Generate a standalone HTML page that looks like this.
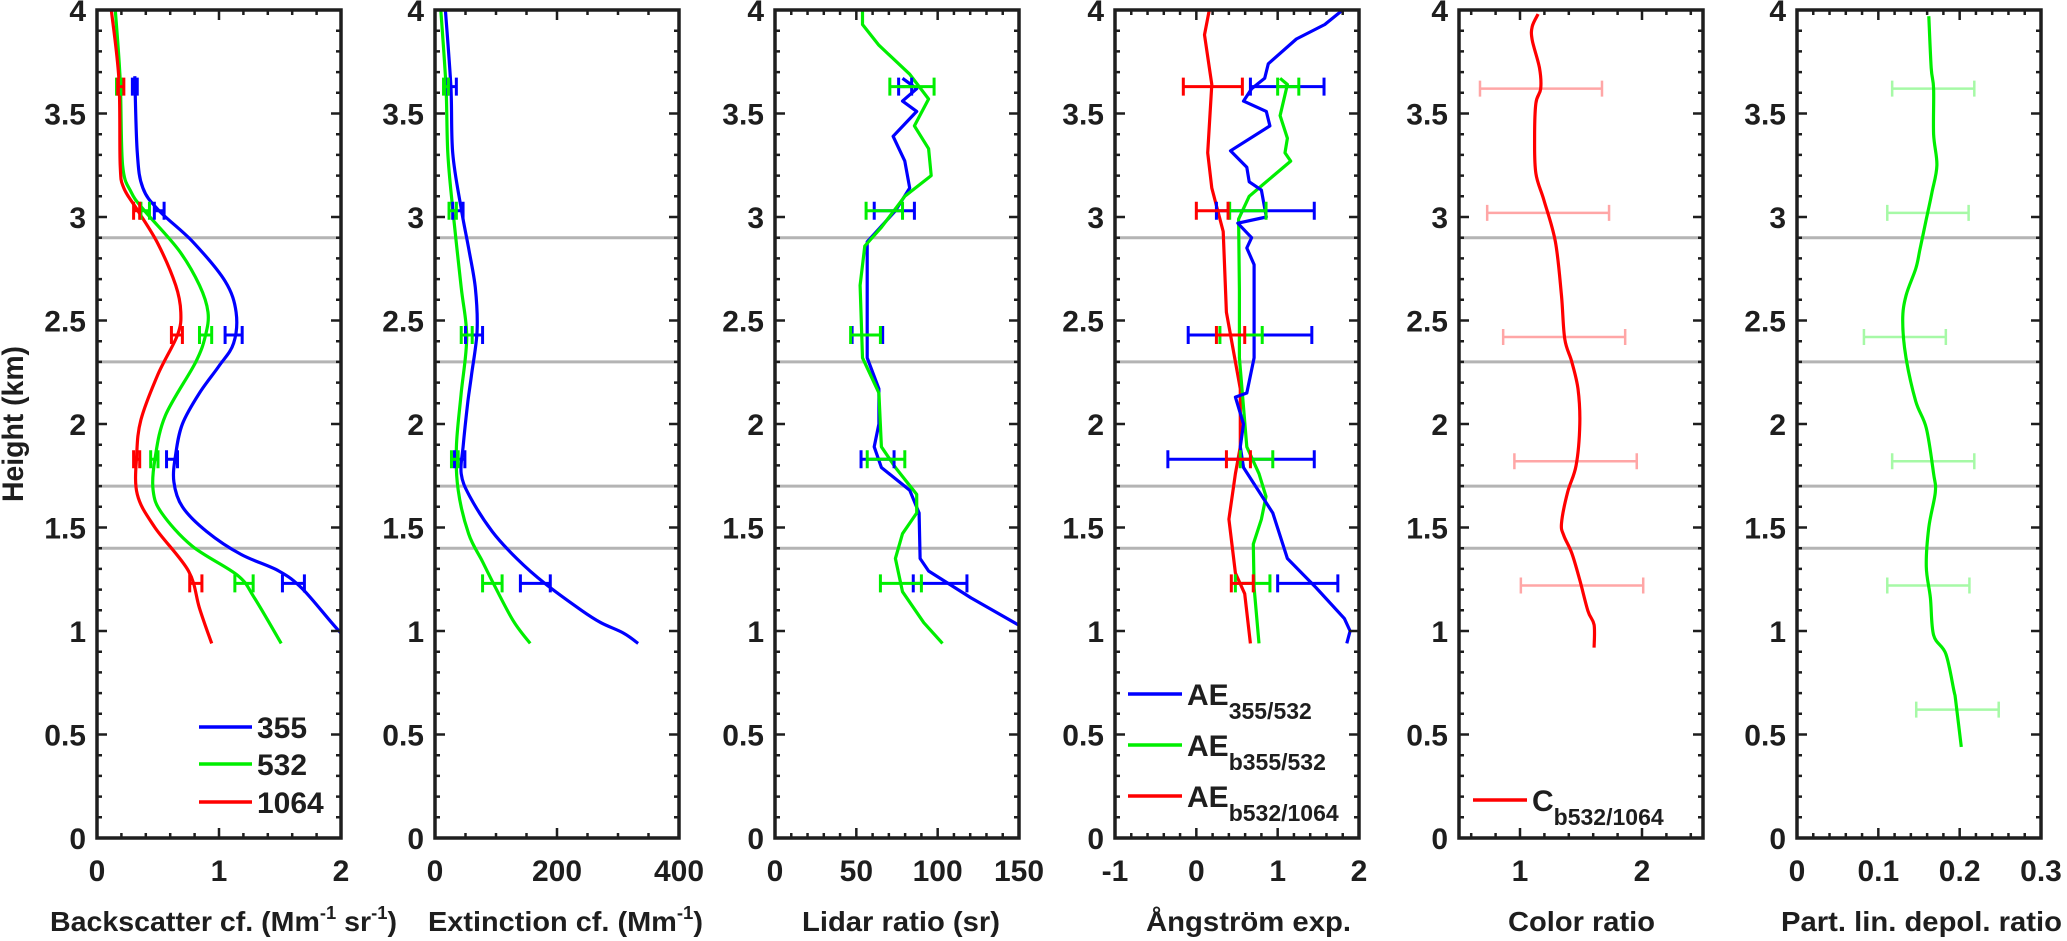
<!DOCTYPE html>
<html><head><meta charset="utf-8"><style>
html,body{margin:0;padding:0;background:#fff;}
svg{display:block;font-family:"Liberation Sans",Arial,sans-serif;font-weight:bold;}
</style></head><body>
<svg id="fig" width="2067" height="941" viewBox="0 0 2067 941" xmlns="http://www.w3.org/2000/svg"></svg>
<script>
// ---------- data ----------
const yTickValues=[0,0.5,1,1.5,2,2.5,3,3.5,4];
const yTickLabels=["0","0.5","1","1.5","2","2.5","3","3.5","4"];
const layerHeights=[2.9,2.3,1.7,1.4];
const errHeights=[3.63,3.03,2.43,1.83,1.23];
const errHeights56=[3.62,3.02,2.42,1.82,1.22];
const errHeightsDp=[3.62,3.02,2.42,1.82,1.22,0.62];

// panel 1 backscatter
const bscH355=[3.68,3.31,3.14,3.03,2.88,2.69,2.54,2.39,2.28,2.15,2.0,1.85,1.72,1.6,1.48,1.37,1.29,1.2,0.99,0.93];
const bsc355=[0.31,0.33,0.376,0.51,0.785,1.05,1.14,1.12,1.0,0.84,0.70,0.644,0.63,0.70,0.90,1.18,1.49,1.69,2.0,2.15];
const bscH532=[4.0,3.66,3.25,3.12,3.03,2.84,2.67,2.54,2.43,2.30,2.04,1.83,1.68,1.57,1.41,1.27,1.16,0.94];
const bsc532=[0.15,0.19,0.21,0.28,0.39,0.67,0.84,0.91,0.89,0.81,0.56,0.475,0.46,0.53,0.78,1.15,1.29,1.51];
const bscH1064=[4.0,3.66,3.25,3.14,3.03,2.87,2.67,2.54,2.43,2.24,2.02,1.85,1.66,1.50,1.29,1.11,0.94];
const bsc1064=[0.117,0.18,0.19,0.22,0.335,0.50,0.645,0.687,0.66,0.50,0.36,0.325,0.33,0.475,0.75,0.84,0.94];
const bscErr355Lo=[0.29,0.47,1.05,0.57,1.52], bscErr355Hi=[0.33,0.55,1.19,0.66,1.70];
const bscErr532Lo=[0.16,0.36,0.84,0.44,1.13], bscErr532Hi=[0.20,0.43,0.94,0.50,1.28];
const bscErr1064Lo=[0.17,0.30,0.61,0.30,0.76], bscErr1064Hi=[0.22,0.35,0.70,0.35,0.86];

// panel 2 extinction
const extH355=[4.0,3.63,3.31,3.04,2.85,2.66,2.45,2.24,2.11,1.89,1.76,1.65,1.48,1.35,1.23,1.1,1.04,0.99,0.94];
const ext355=[17,26,29,43,55,66,69,60,54,46,43,57,94,134,180,240,272,309,333];
const extH532=[4.0,3.63,3.31,3.04,2.66,2.42,2.15,1.89,1.68,1.47,1.34,1.24,1.05,0.94];
const ext532=[9.5,18,21,29,43,52,43,35,38,55,77,94,128,156];
const extErr355Lo=[21,29,50,32,140], extErr355Hi=[35,46,78,49,189];
const extErr532Lo=[14,23,43,27,78], extErr532Hi=[22,35,61,38,110];

// panel 3 lidar ratio
const lrH355=[3.67,3.62,3.56,3.51,3.39,3.27,3.14,3.03,2.88,2.32,2.17,2.0,1.89,1.79,1.68,1.57,1.35,1.29,1.16,1.03,0.98];
const lr355=[78.4,87.1,78.4,87.1,72.6,79.8,82.8,74,56.7,56.7,63.9,63.9,61,65.4,82.8,88.6,89.2,94.4,120.5,149.5,160];
const lrH532=[4.0,3.93,3.83,3.69,3.57,3.44,3.33,3.20,3.10,2.95,2.86,2.67,2.32,2.15,1.89,1.79,1.66,1.57,1.47,1.35,1.19,1.04,0.94];
const lr532=[53.8,53.8,63.9,82.8,94.4,85.7,94.4,96,79.8,65.4,55.2,52.3,53.8,63.9,65.4,74,87.1,87.1,78.4,74,78.4,91.5,103];
const lrErr355Lo=[76,61,47.4,52.9,85], lrErr355Hi=[84,85.7,66.2,73.2,118];
const lrErr532Lo=[70.6,56,46.5,56.7,64.8], lrErr532Hi=[97.8,78.4,64.8,79.8,90];

// panel 4 Angstrom exponent
const aeH355=[4.0,3.93,3.86,3.74,3.67,3.62,3.56,3.51,3.44,3.32,3.24,3.17,3.13,3.0,2.97,2.90,2.85,2.77,2.32,2.15,2.13,2.0,1.89,1.79,1.57,1.35,1.21,1.06,1.0,0.94];
const ae355=[1.80,1.58,1.23,0.885,0.84,0.68,0.58,0.86,0.905,0.42,0.62,0.65,0.80,0.86,0.51,0.68,0.62,0.71,0.71,0.62,0.48,0.58,0.54,0.58,0.94,1.12,1.47,1.82,1.89,1.85];
const aeH532=[3.67,3.64,3.49,3.38,3.31,3.27,3.16,3.10,2.99,2.65,2.32,1.89,1.76,1.65,1.54,1.42,1.21,0.94];
const ae532=[1.03,1.12,1.03,1.12,1.09,1.16,0.83,0.65,0.52,0.53,0.53,0.62,0.77,0.857,0.80,0.70,0.71,0.77];
const aeH1064=[4.0,3.88,3.64,3.31,3.14,2.93,2.54,2.17,1.89,1.76,1.54,1.28,1.18,0.94];
const ae1064=[0.16,0.10,0.19,0.14,0.19,0.33,0.37,0.54,0.54,0.48,0.40,0.48,0.595,0.665];
const aeErr355Lo=[0.665,0.247,-0.10,-0.35,1.0], aeErr355Hi=[1.57,1.45,1.42,1.45,1.74];
const aeErr532Lo=[1.0,0.41,0.29,0.54,0.48], aeErr532Hi=[1.26,0.857,0.81,0.94,0.905];
const aeErr1064Lo=[-0.16,0.0,0.247,0.37,0.43], aeErr1064Hi=[0.566,0.39,0.595,0.665,0.70];

// panel 5 color ratio
const crH=[3.98,3.92,3.855,3.72,3.62,3.55,3.38,3.21,3.08,2.88,2.62,2.41,2.30,2.17,2.0,1.80,1.67,1.52,1.46,1.376,1.246,1.096,1.03,0.92];
const cr=[1.148,1.10,1.10,1.16,1.17,1.13,1.12,1.13,1.197,1.29,1.34,1.367,1.425,1.475,1.49,1.46,1.39,1.34,1.36,1.425,1.49,1.557,1.607,1.607];
const crErrLo=[0.672,0.731,0.862,0.954,1.007], crErrHi=[1.672,1.73,1.862,1.957,2.01];

// panel 6 depolarization
const dpH=[3.97,3.72,3.62,3.40,3.25,3.12,2.99,2.84,2.75,2.62,2.50,2.32,2.11,1.98,1.76,1.67,1.50,1.31,1.16,0.98,0.89,0.71,0.667,0.44];
const dp=[0.162,0.165,0.168,0.168,0.172,0.166,0.159,0.151,0.146,0.134,0.130,0.134,0.146,0.159,0.168,0.170,0.162,0.159,0.164,0.168,0.183,0.193,0.195,0.202];
const dpErrLo=[0.117,0.111,0.0823,0.117,0.111,0.1466], dpErrHi=[0.218,0.211,0.183,0.218,0.212,0.248];

// ---------- layout ----------
const NS="http://www.w3.org/2000/svg";
const svg=document.getElementById('fig');
const PW=244, TOP=10, BOT=838;
const yS=h=>BOT-h*(BOT-TOP)/4;
function mk(tag,attrs,parent){const e=document.createElementNS(NS,tag);for(const k in attrs)e.setAttribute(k,attrs[k]);(parent||svg).appendChild(e);return e;}
const BLUE="#0000ff",GREEN="#00ee00",RED="#ff0000",AX="#1e1e1e";

const panels=[
 {name:"backscatter",left:97,xmin:0,xmax:2,majors:[0,1,2],labels:["0","1","2"],minor:0.2,smooth:true},
 {name:"extinction",left:435,xmin:0,xmax:400,majors:[0,200,400],labels:["0","200","400"],minor:50,smooth:true},
 {name:"lidar-ratio",left:775,xmin:0,xmax:150,majors:[0,50,100,150],labels:["0","50","100","150"],minor:10,smooth:false},
 {name:"angstrom",left:1115,xmin:-1,xmax:2,majors:[-1,0,1,2],labels:["-1","0","1","2"],minor:0.2,smooth:false},
 {name:"color-ratio",left:1459,xmin:0.5,xmax:2.5,majors:[1,2],labels:["1","2"],minor:0.2,smooth:true},
 {name:"depol-ratio",left:1797,xmin:0,xmax:0.3,majors:[0,0.1,0.2,0.3],labels:["0","0.1","0.2","0.3"],minor:0.02,smooth:true}
];
panels.forEach(p=>{p.x=v=>p.left+(v-p.xmin)/(p.xmax-p.xmin)*PW;});

function pathD(xs,ys,smooth){
 const pts=xs.map((x,i)=>[x,ys[i]]);
 let d="M"+pts[0][0].toFixed(1)+","+pts[0][1].toFixed(1);
 if(!smooth){for(let i=1;i<pts.length;i++)d+=" L"+pts[i][0].toFixed(1)+","+pts[i][1].toFixed(1);return d;}
 for(let i=0;i<pts.length-1;i++){
  const p0=pts[Math.max(i-1,0)],p1=pts[i],p2=pts[i+1],p3=pts[Math.min(i+2,pts.length-1)];
  const t=0.5/3;
  const c1=[p1[0]+(p2[0]-p0[0])*t,p1[1]+(p2[1]-p0[1])*t];
  const c2=[p2[0]-(p3[0]-p1[0])*t,p2[1]-(p3[1]-p1[1])*t];
  d+=" C"+c1.map(v=>v.toFixed(1))+" "+c2.map(v=>v.toFixed(1))+" "+p2.map(v=>v.toFixed(1));
 }
 return d;
}

function series(pi,vals,hs,color,name){
 const p=panels[pi];
 const el=mk('path',{d:pathD(vals.map(p.x),hs.map(yS),p.smooth),fill:"none",stroke:color,"stroke-width":3.2,"stroke-linejoin":"round","clip-path":"url(#clip"+pi+")"},p.g);
 
 
}
function errbars(pi,hs,lo,hi,color,opacity,sw,name){
 const p=panels[pi];
 const g=mk('g',{stroke:color,"stroke-width":sw,"stroke-opacity":opacity,"clip-path":"url(#clip"+pi+")"},p.g);
 
 
 hs.forEach((h,i)=>{
  const y=yS(h),x1=p.x(lo[i]),x2=p.x(hi[i]),c=opacity<1?8:9;
  const e=mk('path',{d:`M${x1},${y}H${x2}M${x1},${y-c}V${y+c}M${x2},${y-c}V${y+c}`,fill:"none"},g);
  
  
 });
}

const defs=mk('defs',{});
panels.forEach((p,pi)=>{
 const cp=mk('clipPath',{id:"clip"+pi},defs);
 mk('rect',{x:p.left,y:TOP,width:PW,height:BOT-TOP},cp);
 p.g=mk('g',{});
 
 
 // layer lines
 layerHeights.forEach(h=>{
  const l=mk('line',{x1:p.left,x2:p.left+PW,y1:yS(h),y2:yS(h),stroke:"#b4b4b4","stroke-width":3},p.g);
  
  
 });
});

// series
series(0,bsc355,bscH355,BLUE,"backscatter-355-line");
series(0,bsc532,bscH532,GREEN,"backscatter-532-line");
series(0,bsc1064,bscH1064,RED,"backscatter-1064-line");
errbars(0,errHeights,bscErr355Lo,bscErr355Hi,BLUE,1,3,"backscatter-355-errors");
errbars(0,errHeights,bscErr532Lo,bscErr532Hi,GREEN,1,3,"backscatter-532-errors");
errbars(0,errHeights,bscErr1064Lo,bscErr1064Hi,RED,1,3,"backscatter-1064-errors");
series(1,ext355,extH355,BLUE,"extinction-355-line");
series(1,ext532,extH532,GREEN,"extinction-532-line");
errbars(1,errHeights,extErr355Lo,extErr355Hi,BLUE,1,3,"extinction-355-errors");
errbars(1,errHeights,extErr532Lo,extErr532Hi,GREEN,1,3,"extinction-532-errors");
series(2,lr355,lrH355,BLUE,"lidar-ratio-355-line");
series(2,lr532,lrH532,GREEN,"lidar-ratio-532-line");
errbars(2,errHeights,lrErr355Lo,lrErr355Hi,BLUE,1,3,"lidar-ratio-355-errors");
errbars(2,errHeights,lrErr532Lo,lrErr532Hi,GREEN,1,3,"lidar-ratio-532-errors");
series(3,ae1064,aeH1064,RED,"ae-b532-1064-line");
series(3,ae532,aeH532,GREEN,"ae-b355-532-line");
series(3,ae355,aeH355,BLUE,"ae-355-532-line");
errbars(3,errHeights,aeErr355Lo,aeErr355Hi,BLUE,1,3,"ae-355-532-errors");
errbars(3,errHeights,aeErr532Lo,aeErr532Hi,GREEN,1,3,"ae-b355-532-errors");
errbars(3,errHeights,aeErr1064Lo,aeErr1064Hi,RED,1,3,"ae-b532-1064-errors");
series(4,cr,crH,RED,"color-ratio-line");
errbars(4,errHeights56,crErrLo,crErrHi,RED,0.35,2.5,"color-ratio-errors");
series(5,dp,dpH,GREEN,"depol-ratio-line");
errbars(5,errHeightsDp,dpErrLo,dpErrHi,GREEN,0.35,2.5,"depol-ratio-errors");

// axes
const titles=[
 {t:null,x1:50,x2:397},
 {t:"Extinction cf. (Mm",x1:428,x2:703},
 {t:"Lidar ratio (sr)",x1:802,x2:1000},
 {t:"Ångström exp.",x1:1146,x2:1351},
 {t:"Color ratio",x1:1508,x2:1655},
 {t:"Part. lin. depol. ratio",x1:1781,x2:2062}
];
panels.forEach((p,pi)=>{
 const ag=mk('g',{stroke:AX,"stroke-width":2.5},p.g);
 
 
 let d="";
 // y ticks
 for(let k=0;k<=40;k++){const h=k/10,y=yS(h),len=(k%5===0)?10:5;
  d+=`M${p.left},${y}h${len}M${p.left+PW},${y}h${-len}`;}
 // x ticks
 const n=Math.round((p.xmax-p.xmin)/p.minor);
 const start=Math.ceil(p.xmin/p.minor-1e-9);
 for(let k=start;k*p.minor<=p.xmax+1e-9;k++){const v=k*p.minor;
  const major=p.majors.some(m=>Math.abs(m-v)<1e-9);const len=major?10:5;const x=p.x(v);
  d+=`M${x},${BOT}v${-len}M${x},${TOP}v${len}`;}
 mk('path',{d:d,fill:"none"},ag);
 const box=mk('rect',{x:p.left,y:TOP,width:PW,height:BOT-TOP,fill:"none",stroke:AX,"stroke-width":3.5},p.g);
 
 
 // y labels
 yTickValues.forEach((v,i)=>{
  const t=mk('text',{x:p.left-11,y:yS(v)+11,"text-anchor":"end","font-size":30,fill:AX},p.g);
  t.textContent=yTickLabels[i];
  
  
 });
 p.majors.forEach((v,i)=>{
  const t=mk('text',{x:p.x(v),y:881,"text-anchor":"middle","font-size":30,fill:AX},p.g);
  t.textContent=p.labels[i];
  
  
 });
});

// x-axis titles
function sup(parent,txt){const s=mk('tspan',{"font-size":18,dy:-12},parent);s.textContent=txt;return s;}
function nrm(parent,txt,dy){const s=mk('tspan',{"font-size":28,dy:dy},parent);s.textContent=txt;return s;}
let t=mk('text',{x:50,y:931,"font-size":28,fill:AX,textLength:347,lengthAdjust:"spacingAndGlyphs"});


nrm(t,"Backscatter cf. (Mm",0);sup(t,"-1");nrm(t," sr",12);sup(t,"-1");nrm(t,")",12);
t=mk('text',{x:428,y:931,"font-size":28,fill:AX,textLength:275,lengthAdjust:"spacingAndGlyphs"});


nrm(t,"Extinction cf. (Mm",0);sup(t,"-1");nrm(t,")",12);
[[2,"lidar-ratio-x-axis-title"],[3,"angstrom-x-axis-title"],[4,"color-ratio-x-axis-title"],[5,"depol-x-axis-title"]].forEach(([i,nm])=>{
 const o=titles[i];
 const e=mk('text',{x:o.x1,y:931,"font-size":28,fill:AX,textLength:o.x2-o.x1,lengthAdjust:"spacingAndGlyphs"});
 e.textContent=o.t;
 
 
});
// y title
t=mk('text',{x:0,y:0,"font-size":30,fill:AX,"text-anchor":"middle",transform:"translate(23,424) rotate(-90)",textLength:156,lengthAdjust:"spacingAndGlyphs"});
t.textContent="Height (km)";



// legends
function legendEntry(x1,x2,y,color,main,sub,name){
 const g=mk('g',{});
 
 
 mk('line',{x1:x1,x2:x2,y1:y,y2:y,stroke:color,"stroke-width":3.5},g);
 const tx=mk('text',{x:x2+5,y:y+11,"font-size":30,fill:AX},g);
 const a=mk('tspan',{},tx);a.textContent=main;
 if(sub){const s=mk('tspan',{"font-size":23,dy:14},tx);s.textContent=sub;}
}
legendEntry(199,252,727,BLUE,"355",null,"legend-entry-355");
legendEntry(199,252,764,GREEN,"532",null,"legend-entry-532");
legendEntry(199,252,802,RED,"1064",null,"legend-entry-1064");
legendEntry(1128,1182,694,BLUE,"AE","355/532","legend-entry-ae-355-532");
legendEntry(1128,1182,745,GREEN,"AE","b355/532","legend-entry-ae-b355-532");
legendEntry(1128,1182,796,RED,"AE","b532/1064","legend-entry-ae-b532-1064");
legendEntry(1473,1527,800,RED,"C","b532/1064","legend-entry-color-ratio");
</script>
</body></html>
